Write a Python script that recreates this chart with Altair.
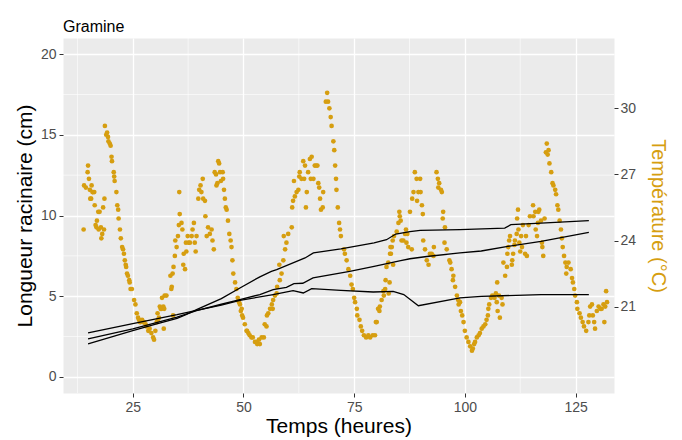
import altair as alt
import pandas as pd

FONT = "Liberation Sans"
ORANGE = "#D69E10"

# Temperature readings (hours, degC)
temp_hours = [
    13.9, 14.0, 14.4, 14.8, 14.9, 15.1, 15.3, 15.4, 15.6, 15.7, 15.9, 16.0, 16.3, 16.4, 16.6, 16.8,
    16.9, 17.2, 17.3, 17.5, 17.8, 17.9, 18.1, 18.3, 18.5, 18.6,
    18.7, 19.0, 19.2, 19.4, 19.5, 19.8, 20.0, 20.2, 20.3, 20.7, 20.8, 20.9, 21.3, 21.5, 21.7, 21.8,
    22.1, 22.3, 22.6, 22.8, 23.0, 23.2, 23.4, 23.5, 23.7, 23.9, 24.2, 24.3, 24.5, 24.8, 25.3, 25.6,
    25.9, 26.2, 26.4, 26.6, 26.8, 27.1, 27.3, 27.6, 27.9, 28.1, 28.5, 28.8, 29.2, 29.6, 29.8,
    30.1, 30.4, 30.6, 30.7, 30.9, 31.1, 31.3, 31.5, 31.6, 31.9, 32.0, 32.1, 32.2, 32.6, 33.5, 33.7,
    33.8, 34.0, 34.1, 34.2, 34.5, 34.6, 34.9, 35.2, 35.4, 35.5, 35.6, 36.0, 36.2, 36.4, 36.5, 36.8,
    37.0, 37.1, 37.4, 37.6, 37.9, 38.3, 38.5, 38.8, 39.0, 39.2, 39.4, 39.8, 40.0, 40.3, 40.5, 40.8,
    40.9, 41.3, 41.4, 41.7, 42.0, 42.4, 42.8, 43.0, 43.3, 43.5, 43.8, 43.9, 44.1, 44.3, 44.5, 44.7,
    44.9, 45.3, 45.4, 45.6, 45.8, 46.0, 46.2, 46.5, 46.8, 47.1, 47.3, 47.5, 47.7, 48.1, 48.4, 48.7,
    49.0, 49.2, 49.4, 49.6, 49.7, 49.9, 50.3, 50.7, 50.8, 51.1, 51.4, 51.8, 52.1, 52.6, 53.0, 53.1,
    53.5, 53.7, 54.1, 54.6,
    54.8, 55.2, 55.3, 55.6, 56.0, 56.4, 56.6, 56.7, 57.1, 57.5, 57.6, 58.1, 58.2, 58.6, 59.0, 59.1,
    59.4, 59.7, 60.1, 60.9, 61.0, 61.2, 61.4, 61.6, 62.0, 62.4, 62.6, 62.7, 63.1, 63.5, 63.7, 63.9,
    64.1, 64.3, 64.6, 65.0, 65.2, 65.4, 65.8, 66.1, 66.4, 66.7, 66.9, 67.1, 67.3, 67.5, 67.9, 68.0,
    68.6, 68.9, 69.1, 69.4, 69.7, 69.9, 70.3, 70.5, 70.7, 70.9, 71.0, 71.3, 71.6, 71.8, 72.0, 72.7,
    72.9, 73.3, 73.7, 74.1, 74.4, 74.7, 75.0, 75.2, 75.6, 75.7, 76.2, 76.5, 76.8, 77.2, 77.7, 78.2,
    78.6, 79.2, 79.7,
    79.9, 80.1, 80.4, 80.7, 80.8, 81.2, 81.6, 81.7, 82.0, 82.1, 82.3, 82.7, 82.8, 83.0, 83.1, 83.2,
    83.3, 83.5, 83.7, 83.8, 84.0, 84.6, 85.0, 85.2, 85.3, 85.5, 85.7, 86.1, 86.5, 86.7, 86.8, 87.0,
    87.2, 87.6, 88.0, 88.1, 88.4, 88.7, 89.1, 89.2, 89.5, 89.9, 90.0, 90.3, 90.5, 90.6, 91.0, 91.4,
    91.8, 92.1, 92.5, 92.9, 93.0, 93.6, 93.9, 94.0, 94.2, 94.6, 94.8, 95.0, 95.1, 95.4, 95.5, 95.9,
    96.5, 96.7, 97.0, 97.3, 97.4, 97.8, 98.2, 98.5, 98.6, 98.9, 99.1, 99.4, 99.7, 100.0, 100.4, 100.8,
    101.2, 101.6, 101.8, 102.1, 102.3, 102.7, 103.1, 103.4, 103.8, 104.2, 104.6, 104.9, 105.2, 105.3,
    105.5, 105.9, 106.2, 106.7, 107.0, 107.2, 107.3, 107.4, 107.7, 107.9, 108.3, 108.5, 108.7, 109.1,
    109.5, 109.6, 109.8, 110.0, 110.2, 110.6, 110.7, 110.9, 111.2, 111.3, 111.7, 111.8, 112.0, 112.1,
    112.3, 112.5, 112.7, 112.9, 113.1, 113.6, 113.8, 114.0, 114.4, 114.7, 115.4, 115.5, 115.9, 116.0,
    116.3, 116.5, 116.6, 116.8, 117.2, 117.4, 117.5, 117.7, 118.0,
    118.3, 118.5, 118.7, 118.9, 119.1, 119.5, 119.8, 120.0, 120.4, 120.6, 120.9, 121.1, 121.4, 121.7,
    121.9, 122.1, 122.4, 122.7, 122.9, 123.0, 123.4, 123.9, 124.2, 124.4, 124.7, 124.9, 125.3, 125.4,
    125.9, 126.2, 126.6, 126.9, 127.4, 127.9, 128.1, 128.3, 128.7, 128.9, 129.2, 129.4, 129.8, 130.2,
    130.6, 130.9, 131.3, 131.5, 131.7, 131.9, 132.1,
]
temp_celsius = [
    24.5, 26.5, 26.4, 27.1, 27.4, 26.8, 26.3, 25.9, 25.9, 26.5, 26.2, 26.2, 26.2, 25.6, 24.7, 24.6,
    24.9, 25.3, 24.5, 25.3, 24.6, 24.1, 24.3, 25.5, 24.5, 25.9,
    29.2, 28.8, 28.9, 28.7, 28.5, 28.4, 28.3, 27.8, 27.6, 27.1, 26.9, 26.7, 26.2, 25.6, 25.4, 25.0,
    24.5, 24.1, 23.7, 23.6, 23.4, 23.1, 22.9, 22.8, 22.5, 22.4, 22.2, 22.1, 21.8, 21.8, 21.3, 21.1,
    20.7, 20.5, 20.4, 20.3, 20.3, 20.4, 20.3, 20.3, 20.2, 20.1, 19.9, 20.0, 19.8, 19.6, 19.5,
    19.9, 20.3, 20.7, 20.4, 20.5, 21.0, 20.9, 20.9, 21.4, 21.0, 20.0, 20.9, 21.5, 21.5, 22.4, 21.8,
    21.9, 22.5, 20.6, 22.8, 23.3, 24.0, 23.7, 24.2, 24.7, 26.2, 25.2, 24.8, 24.5, 22.9, 23.4, 22.7,
    23.9, 23.5, 24.2, 23.9, 23.9, 24.2, 24.5, 24.8, 23.9, 23.5, 24.2, 25.9, 26.3, 26.5, 26.2, 26.8,
    25.9, 25.8, 25.1, 24.2, 24.6, 24.3, 24.5, 24.0, 23.6, 27.1, 27.0, 26.5, 26.6, 27.6, 27.5, 27.1,
    26.7, 27.1, 26.8, 26.3, 25.9, 25.5, 25.4, 24.9, 24.3, 24.0, 23.7, 23.1, 22.5, 22.1, 21.8, 21.4,
    21.2, 21.1, 20.8, 20.9, 20.6, 20.5, 20.2, 19.9, 19.9, 19.8, 19.7, 19.6, 19.6, 19.4, 19.4, 19.3,
    19.5, 19.3, 19.6, 19.6,
    20.2, 20.1, 20.6, 20.7, 20.9, 21.1, 20.9, 21.3, 21.5, 21.6, 21.9, 22.9, 22.2, 22.5, 23.1, 24.2,
    23.6, 23.9, 24.3, 24.6, 25.5, 25.8, 26.7, 26.0, 26.2, 26.3, 26.9, 27.1, 26.8, 27.6, 26.8, 27.4,
    25.5, 26.2, 27.1, 27.7, 26.8, 27.8, 26.8, 27.4, 27.4, 27.4, 26.6, 26.4, 25.9, 25.4, 25.5, 26.2,
    30.3, 30.7, 30.3, 30.0, 29.6, 29.2, 28.5, 28.1, 27.4, 26.8, 26.3, 25.5, 24.8, 24.5, 24.2, 23.6,
    23.4, 23.1, 22.7, 22.4, 22.0, 21.8, 21.4, 21.2, 20.9, 20.6, 20.4, 20.1, 19.9, 19.7, 19.6, 19.7,
    19.6, 19.7, 19.7,
    20.3, 20.3, 20.9, 20.8, 21.0, 21.3, 21.7, 21.5, 21.8, 22.2, 22.8, 23.0, 21.6, 22.1, 23.4, 23.7,
    23.4, 23.7, 24.0, 22.9, 24.2, 24.4, 24.8, 25.3, 25.1, 24.9, 24.0, 24.0, 24.3, 24.5, 23.9, 24.3,
    23.7, 25.3, 23.6, 25.9, 26.2, 27.1, 26.8, 25.8, 26.2, 26.8, 26.2, 25.6, 25.2, 24.0, 23.6, 23.1,
    22.9, 23.4, 23.4, 23.3, 23.7, 27.1, 26.8, 26.4, 26.6, 26.3, 26.2, 25.0, 25.3, 23.9, 24.6, 23.6,
    23.1, 23.0, 22.7, 22.2, 22.4, 21.9, 21.5, 21.3, 21.1, 21.2, 20.8, 20.6, 20.3, 19.9, 19.6, 19.4,
    19.2, 19.0, 19.1, 19.3, 19.4, 19.6, 19.7, 19.8, 20.0, 20.1, 20.2, 20.4, 20.6, 20.9,
    21.1, 21.4, 21.5, 21.4, 21.6, 21.2, 22.1, 20.8, 21.5, 20.5, 21.4, 21.1, 23.0, 22.4,
    22.8, 23.4, 23.7, 24.0, 24.2, 22.9, 23.1, 23.4, 23.8, 24.0, 24.3, 25.0, 25.4, 24.5,
    23.9, 23.5, 24.2, 23.7, 24.7, 23.4, 24.2, 23.3, 24.7, 25.1, 25.6, 25.1, 25.3, 24.5,
    24.2, 24.8, 25.3, 25.4, 24.9, 23.9, 23.7, 23.3, 25.0,
    28.0, 28.4, 27.9, 28.1, 27.5, 27.1, 26.6, 26.5, 26.3, 26.1, 25.6, 25.4, 24.9, 24.5,
    24.1, 23.7, 23.3, 23.0, 22.5, 22.8, 23.0, 22.7, 22.3, 22.1, 21.8, 21.5, 21.2, 20.9,
    20.7, 20.5, 20.3, 20.1, 19.9, 20.3, 20.6, 21.0, 21.1, 20.6, 20.3, 20.0, 20.8, 21.0,
    20.9, 20.9, 21.1, 20.3, 21.0, 21.7, 21.2,
]

# Root length curves (hours, cm)
root_a_hours = [14.9, 25, 30, 35, 37, 39.4, 45, 49.2, 53.7, 56.3, 57.5, 62, 63.9, 65.8, 72,
                79.5, 82.3, 84.4, 87.6, 89.9, 98.9, 109, 110.4, 117.2, 128]
root_a_cm = [2.04, 2.87, 3.25, 3.62, 3.85, 4.17, 4.85, 5.51, 6.2, 6.54, 6.64, 7.16, 7.37, 7.68, 7.93,
             8.3, 8.5, 8.85, 9.0, 9.08, 9.12, 9.22, 9.43, 9.53, 9.68]
root_b_hours = [14.9, 25, 35, 39.4, 45, 49.2, 53.7, 56.7, 59.7, 61.4, 63.4, 65.7, 74, 79.5, 85.5,
                87.6, 91.4, 98.9, 103.7, 109.7, 117.2, 128]
root_b_cm = [2.35, 2.97, 3.7, 4.1, 4.5, 4.79, 5.1, 5.4, 5.55, 5.78, 5.8, 6.13, 6.54, 6.85, 7.2,
             7.32, 7.46, 7.68, 7.8, 8.09, 8.4, 8.96]
root_c_hours = [14.9, 25, 35, 39.4, 45, 49.2, 56.7, 61.2, 63.5, 65.4, 72, 79.3, 83.8, 86.2, 89.5,
                98.9, 103.7, 117.2, 128]
root_c_cm = [2.72, 3.3, 3.85, 4.12, 4.45, 4.74, 5.1, 5.34, 5.2, 5.47, 5.36, 5.26, 5.3, 5.1, 4.41,
             4.89, 4.99, 5.1, 5.1]

x_major = [25, 50, 75, 100, 125]
x_minor = [12.5, 37.5, 62.5, 87.5, 112.5]
y_major = [0, 5, 10, 15, 20]
y_minor = [2.5, 7.5, 12.5, 17.5]
t_ticks = [21, 24, 27, 30]

X_DOMAIN = [9.24, 133.68]
Y_DOMAIN = [-1, 21]
T_DOMAIN = [17.08, 33.19]

W, H = 551, 355

temp_df = pd.DataFrame({"heures": temp_hours, "temp": temp_celsius})
roots_df = pd.concat([
    pd.DataFrame({"heures": root_a_hours, "cm": root_a_cm, "serie": "a"}),
    pd.DataFrame({"heures": root_b_hours, "cm": root_b_cm, "serie": "b"}),
    pd.DataFrame({"heures": root_c_hours, "cm": root_c_cm, "serie": "c"}),
])
xminor_df = pd.DataFrame({"heures": x_minor})
yminor_df = pd.DataFrame({"v": y_minor})

xscale = alt.Scale(domain=X_DOMAIN, nice=False, zero=False)
yscale = alt.Scale(domain=Y_DOMAIN, nice=False, zero=False)
tscale = alt.Scale(domain=T_DOMAIN, nice=False, zero=False)

xaxis = alt.Axis(
    values=x_major, grid=True, title="Temps (heures)", titleX=W / 2, titleY=39,
    titleAlign="center", titleBaseline="alphabetic", labelPadding=3,
)
X = alt.X("heures:Q", scale=xscale, axis=xaxis)

vminor = alt.Chart(xminor_df).mark_rule(color="white", strokeWidth=0.6).encode(x=X)
hminor = alt.Chart(yminor_df).mark_rule(color="white", strokeWidth=0.6).encode(
    y=alt.Y("v:Q", scale=yscale, axis=None)
)
grid_layer = alt.layer(vminor, hminor)

points = alt.Chart(temp_df).mark_circle(size=22, color=ORANGE, opacity=1).encode(
    x=X,
    y=alt.Y("temp:Q", scale=tscale, axis=alt.Axis(
        orient="right", values=t_ticks, grid=False, title="Température (°C)",
        titleColor=ORANGE, titleFontSize=20, titleAngle=90, titleX=43, titleY=H / 2,
        titleAlign="center", titleBaseline="middle", labelPadding=2,
    )),
)

lines = alt.Chart(roots_df).mark_line(color="black", strokeWidth=1.3).encode(
    x=X,
    y=alt.Y("cm:Q", scale=yscale, axis=alt.Axis(
        orient="left", values=y_major, grid=True, title="Longueur racinaire (cm)",
        titleAngle=270, titleX=-38, titleY=H / 2, titleAlign="center",
        titleBaseline="middle", labelPadding=3,
    )),
    detail="serie:N",
)

chart = alt.layer(grid_layer, points, lines).resolve_scale(y="independent").properties(
    width=W,
    height=H,
    autosize=alt.AutoSizeParams(type="none"),
    padding={"left": 55, "top": 30, "right": 60, "bottom": 45},
    title=alt.TitleParams(
        "Gramine", anchor="start", frame="group", fontSize=16, font=FONT,
        fontWeight="normal", color="black", baseline="alphabetic", offset=10, dy=20,
    ),
).configure_view(
    fill="#EBEBEB", stroke="transparent"
).configure_axis(
    labelFont=FONT, titleFont=FONT, labelColor="#4D4D4D", labelFontSize=14,
    tickColor="#333333", tickSize=4, domain=False, titleFontWeight="normal",
    titleColor="black", titleFontSize=21, gridColor="white", gridWidth=1.3,
    labelOverlap=False,
)

chart.save("out.html", embed_options={"renderer": "svg", "actions": False})
